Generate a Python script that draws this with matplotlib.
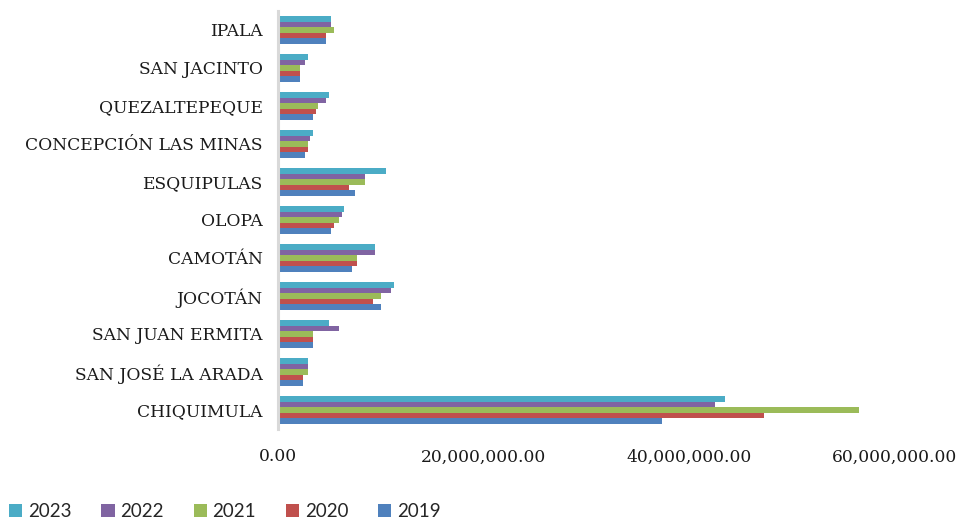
import matplotlib
matplotlib.use("Agg")
import matplotlib.pyplot as plt
import numpy as np
from matplotlib.ticker import FuncFormatter
from matplotlib.patches import Patch

categories = ["CHIQUIMULA", "SAN JOSÉ LA ARADA", "SAN JUAN ERMITA", "JOCOTÁN",
              "CAMOTÁN", "OLOPA", "ESQUIPULAS", "CONCEPCIÓN LAS MINAS",
              "QUEZALTEPEQUE", "SAN JACINTO", "IPALA"]
years = ["2019", "2020", "2021", "2022", "2023"]
v2019 = [37.3e6, 2.40e6, 3.40e6, 10.02e6, 7.20e6, 5.18e6, 7.49e6, 2.63e6, 3.40e6, 2.14e6, 4.67e6]
v2020 = [47.3e6, 2.40e6, 3.40e6, 9.24e6, 7.72e6, 5.45e6, 6.94e6, 2.89e6, 3.66e6, 2.14e6, 4.67e6]
v2021 = [56.5e6, 2.89e6, 3.40e6, 10.02e6, 7.72e6, 5.93e6, 8.49e6, 2.89e6, 3.92e6, 2.14e6, 5.45e6]
v2022 = [42.5e6, 2.89e6, 5.93e6, 10.99e6, 9.47e6, 6.19e6, 8.49e6, 3.14e6, 4.67e6, 2.63e6, 5.15e6]
v2023 = [43.5e6, 2.89e6, 4.93e6, 11.25e6, 9.47e6, 6.42e6, 10.5e6, 3.40e6, 4.93e6, 2.89e6, 5.15e6]
series = [v2019, v2020, v2021, v2022, v2023]
colors = ["#4F81BD", "#C0504D", "#9BBB59", "#8064A2", "#4BACC6"]
xticks = [0, 20e6, 40e6, 60e6]

fig = plt.figure(figsize=(9.64, 5.22), dpi=100)
ax = fig.add_axes([278/964, 1-429/522, (895-278)/964, (429-11)/522])

y = np.arange(len(categories))
bh = 0.149
for j, (vals, c) in enumerate(zip(series, colors)):
    ax.barh(y + (j - 2) * bh, vals, height=bh, color=c, edgecolor="none", zorder=2)

ax.set_ylim(-0.5, len(categories) - 0.5)
ax.set_xlim(0, 60e6)
ax.set_yticks(y)
ax.set_yticklabels(categories, fontfamily="DejaVu Serif", fontsize=12.3, color="#1a1a1a")
ax.set_xticks(xticks)
ax.xaxis.set_major_formatter(FuncFormatter(lambda v, p: f"{v:,.2f}"))
for lab in ax.get_xticklabels():
    lab.set_fontfamily("DejaVu Serif")
    lab.set_fontsize(12.3)
    lab.set_color("#1a1a1a")
ax.tick_params(axis="both", length=0)
ax.tick_params(axis="y", pad=11)
ax.tick_params(axis="x", pad=14)
for s in ["top", "right", "bottom"]:
    ax.spines[s].set_visible(False)
ax.spines["left"].set_color("#d9d9d9")
ax.spines["left"].set_linewidth(2.2)
ax.spines["left"].set_zorder(3)

handles = [Patch(facecolor=colors[j], edgecolor="none", label=years[j]) for j in range(4, -1, -1)]
leg = fig.legend(handles=handles, loc="lower left", bbox_to_anchor=(-0.008, -0.028), ncol=5,
                 frameon=False, prop={"family": "Lato", "size": 13.5},
                 handlelength=0.7, handleheight=0.7, handletextpad=0.3, columnspacing=1.6)
for t in leg.get_texts():
    t.set_color("#262626")

fig.savefig("out.png", dpi=100)
